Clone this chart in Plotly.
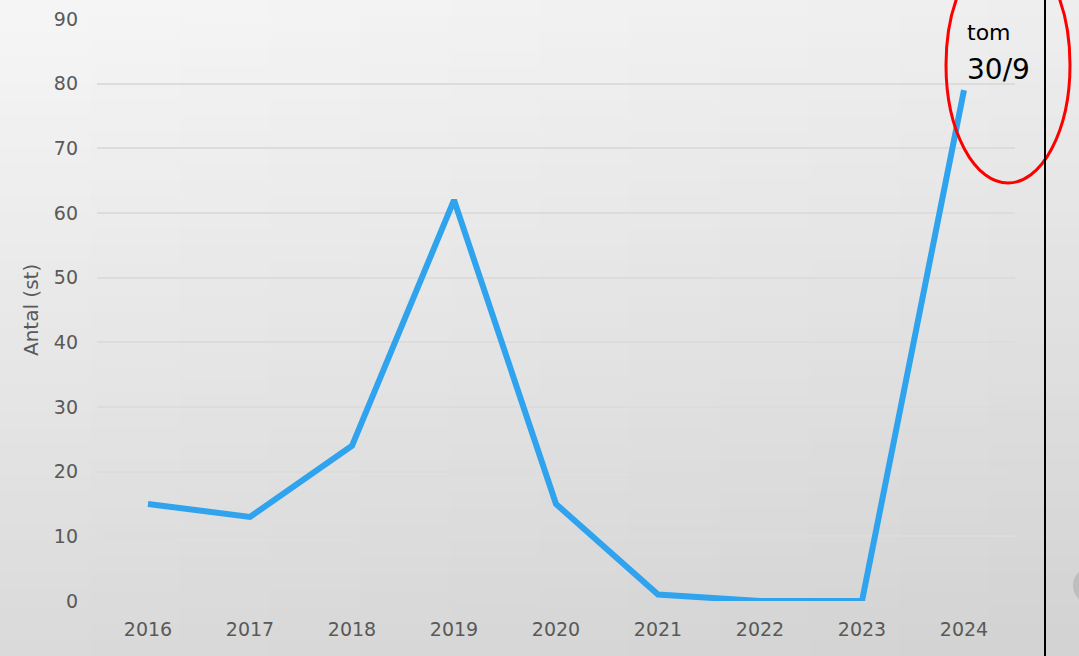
import plotly.graph_objects as go

years = ["2016", "2017", "2018", "2019", "2020", "2021", "2022", "2023", "2024"]
counts = [15, 13, 24, 62, 15, 1, 0, 0, 79]
y_ticks = [0, 10, 20, 30, 40, 50, 60, 70, 80, 90]

W, H = 1079, 656
L, R, T, B = 97, 64, 19, 55
PW, PH = W - L - R, H - T - B

def px_x(px):
    return (px - L) / PW

def px_y(py):
    return (H - B - py) / PH

shapes = []
# background gradient
nx, ny = 12, 40
for i in range(nx):
    for j in range(ny):
        fx = (i + 0.5) / nx
        fy = (j + 0.5) / ny
        v = int(round(246 - 8 * fx - 28 * fy))
        x0 = -10 if i == 0 else i * W / nx
        x1 = W + 10 if i == nx - 1 else (i + 1) * W / nx + 1
        y0 = -10 if j == 0 else j * H / ny
        y1 = H + 10 if j == ny - 1 else (j + 1) * H / ny + 1
        shapes.append(dict(
            type="rect", xref="paper", yref="paper",
            x0=px_x(x0), x1=px_x(x1), y0=px_y(y1), y1=px_y(y0),
            fillcolor=f"rgb({v},{v},{v})", line=dict(width=0), layer="below"))

# faint partial circle at bottom right
shapes.append(dict(type="circle", xref="paper", yref="paper",
                   x0=px_x(1073), x1=px_x(1105), y0=px_y(603), y1=px_y(568),
                   fillcolor="rgba(150,150,150,0.35)", line=dict(width=0), layer="below"))

# red ellipse
shapes.append(dict(type="circle", xref="paper", yref="paper",
                   x0=px_x(946), x1=px_x(1070), y0=px_y(183), y1=px_y(-53),
                   line=dict(color="#ff0000", width=3), layer="above"))
# black vertical line
shapes.append(dict(type="line", xref="paper", yref="paper",
                   x0=px_x(1045), x1=px_x(1045), y0=px_y(H + 5), y1=px_y(-5),
                   line=dict(color="#000000", width=2), layer="above"))

fig = go.Figure()
fig.add_trace(go.Scatter(x=years, y=counts, mode="lines",
                         line=dict(color="#2fa3ee", width=6),
                         hoverinfo="x+y"))

font_family = "'DejaVu Sans', sans-serif"

fig.update_layout(
    width=W, height=H,
    margin=dict(l=L, r=R, t=T, b=B, pad=0, autoexpand=False),
    paper_bgcolor="rgba(0,0,0,0)",
    plot_bgcolor="rgba(0,0,0,0)",
    showlegend=False,
    shapes=shapes,
    font=dict(family=font_family, color="#595959", size=19),
    xaxis=dict(type="category", range=[-0.5, 8.5], showgrid=False, zeroline=False,
               showline=False, ticks="", ticklabelstandoff=15, automargin=False,
               tickfont=dict(size=19, color="#595959")),
    yaxis=dict(range=[0, 90], tickvals=y_ticks, showgrid=True,
               gridcolor="#dcdcdc", gridwidth=1.5, zeroline=False, showline=False,
               ticks="", ticklabelstandoff=18, automargin=False,
               tickfont=dict(size=19, color="#595959")),
    annotations=[
        dict(text="Antal (st)", xref="paper", yref="paper", x=px_x(31), y=0.5,
             textangle=-90, showarrow=False, font=dict(size=20, color="#595959"),
             xanchor="center", yanchor="middle"),
        dict(text="tom", xref="paper", yref="paper", x=px_x(965), y=px_y(32),
             showarrow=False, xanchor="left", yanchor="middle",
             font=dict(size=22, color="#000000")),
        dict(text="30/9", xref="paper", yref="paper", x=px_x(965), y=px_y(69),
             showarrow=False, xanchor="left", yanchor="middle",
             font=dict(size=28, color="#000000")),
    ],
)

fig.write_html("out.html", config={"displayModeBar": False},
               post_script="document.body.style.margin='0';document.body.style.padding='0';")
